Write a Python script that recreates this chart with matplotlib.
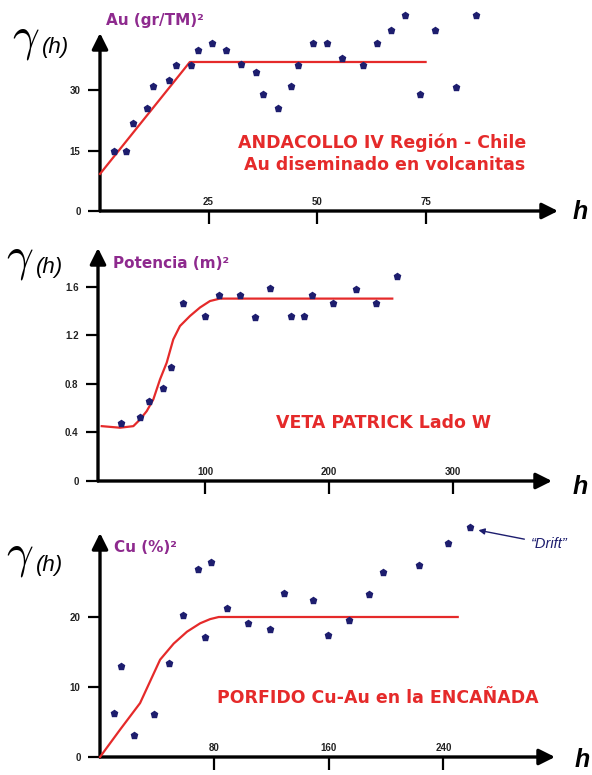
import matplotlib
matplotlib.use("Agg")
import matplotlib.pyplot as plt

# ---------------------------------------------------------------------------
# Experimental variograms (points) and fitted models (red lines)
# ---------------------------------------------------------------------------
# ANDACOLLO - Au (gr/TM)^2
au_h = [3.3, 6, 7.7, 10.9, 12.3, 15.8, 17.6, 20.9, 22.5, 25.7, 29, 32.5, 36, 37.5,
        40.9, 44, 45.5, 49, 52.3, 55.8, 60.5, 63.7, 67, 70.2, 73.7, 77.2, 81.9, 86.7]
au_g = [15, 15, 21.8, 25.5, 31, 32.5, 36.2, 36.2, 40, 41.7, 40, 36.5, 34.5, 29,
        25.5, 31, 36.2, 41.7, 41.7, 38, 36.2, 41.7, 45, 48.7, 29, 45, 30.7, 48.7]
au_model_h = [0, 20.7, 75]
au_model_g = [9.2, 37, 37]
au_xticks = [25, 50, 75]
au_yticks = [0, 15, 30]

# VETA PATRICK - Potencia (m)^2
pot_h = [32, 47.6, 55, 66, 72.5, 82, 100, 111, 128, 140, 152, 169, 180, 186,
         203, 222, 238, 255]
pot_g = [0.48, 0.53, 0.66, 0.77, 0.94, 1.47, 1.36, 1.53, 1.53, 1.35, 1.59, 1.36,
         1.36, 1.53, 1.47, 1.58, 1.47, 1.69]
pot_model_h = [16.7, 31.5, 42.2, 47.6, 53, 58.3, 63.7, 69.1, 74.4, 79.8, 87.9,
               96, 104, 112, 251]
pot_model_g = [0.452, 0.439, 0.452, 0.507, 0.576, 0.672, 0.837, 0.975, 1.167,
               1.277, 1.36, 1.43, 1.483, 1.503, 1.503]
pot_xticks = [100, 200, 300]
pot_yticks = [0, 0.4, 0.8, 1.2, 1.6]

# PORFIDO Cu-Au - Cu (%)^2
cu_h = [9.8, 14.5, 24, 38, 48.4, 58, 68.3, 73.7, 77.7, 88.9, 103.6, 118.8, 128.7,
        149, 159, 174, 188, 198, 223, 243, 258.5]
cu_g = [6.3, 13.0, 3.1, 6.2, 13.4, 20.3, 26.8, 17.2, 27.8, 21.3, 19.2, 18.3, 23.4,
        22.4, 17.4, 19.6, 23.3, 26.5, 27.5, 30.6, 32.8]
cu_model_h = [0, 14, 28, 42, 51.5, 60.8, 70, 77, 83, 250]
cu_model_g = [0, 3.9, 7.7, 13.9, 16.2, 17.9, 19.1, 19.7, 20, 20]
cu_xticks = [80, 160, 240]
cu_yticks = [0, 10, 20]

RED = "#e52a2a"
NAVY = "#1d1d6e"
PURPLE = "#8e2a8e"
TITLE_FONT = ["DejaVu Sans"]

plt.rcParams["font.family"] = ["Liberation Sans", "DejaVu Sans"]
plt.rcParams["mathtext.fontset"] = "cm"

W, H = 592, 775
fig = plt.figure(figsize=(W / 100, H / 100), dpi=100)
fig.patch.set_facecolor("white")


def px_axes(left, top, right, bottom):
    return fig.add_axes([left / W, 1 - bottom / H, (right - left) / W, (bottom - top) / H])


def fig_text(x, y, s, **kw):
    fig.text(x / W, 1 - y / H, s, **kw)


def panel(box, xlim, ylim, h, g, mh, mg, xticks, yticks, ylabels):
    ax = px_axes(*box)
    ax.set_xlim(*xlim)
    ax.set_ylim(*ylim)
    ax.patch.set_alpha(0)
    for sp in ax.spines.values():
        sp.set_visible(False)

    # axes drawn as arrows
    arrow = dict(arrowstyle="-|>", lw=2.4, color="black", mutation_scale=24,
                 shrinkA=0, shrinkB=0)
    ax.annotate("", xy=(1, 0), xytext=(0, 0), xycoords="axes fraction", arrowprops=arrow)
    ax.annotate("", xy=(0, 1), xytext=(0, 0), xycoords="axes fraction", arrowprops=arrow)

    ax.set_xticks(xticks)
    ax.set_xticklabels([])
    ax.tick_params(axis="x", direction="out", length=9, width=1.6, color="black")
    for t in xticks:
        ax.annotate(str(t), (t, ylim[0]), xytext=(0, 3), textcoords="offset points",
                    ha="center", va="bottom", fontsize=7, fontweight="bold", color="#222222")

    ax.set_yticks(yticks)
    ax.set_yticklabels(ylabels, fontsize=7, fontweight="bold", color="#222222")
    ax.tick_params(axis="y", direction="out", length=9, width=1.6, pad=5, color="black")

    ax.plot(mh, mg, color=RED, lw=1.6, clip_on=False, zorder=3)
    ax.plot(h, g, linestyle="none", marker="p", markersize=4.6, color=NAVY,
            clip_on=False, zorder=4)
    return ax


def gamma_label(x, y):
    fig_text(x, y, r"$\gamma$", ha="left", va="center", fontsize=34)
    fig_text(x + 30, y + 8, "(h)", ha="left", va="center", fontsize=16, style="italic")


title_kw = dict(ha="center", va="center", fontsize=12.5, fontweight="bold",
                color=RED, family=TITLE_FONT)
unit_kw = dict(ha="left", va="center", fontsize=11, fontweight="bold",
               color=PURPLE, family=TITLE_FONT)
h_kw = dict(ha="left", va="center", fontsize=18, style="italic", fontweight="bold")

# ---- panel 1 ----
panel((100, 33, 558, 211), (0, 105.5), (0, 44.2), au_h, au_g, au_model_h, au_model_g,
      au_xticks, au_yticks, ["0", "15", "30"])
fig_text(382, 143, "ANDACOLLO IV Región - Chile", **title_kw)
fig_text(385, 165, "Au diseminado en volcanitas", **title_kw)
fig_text(106, 20, "Au (gr/TM)²", **unit_kw)
gamma_label(12, 40)
fig_text(573, 212, "h", **h_kw)

# ---- panel 2 ----
panel((98, 248, 552, 481), (13.7, 379.8), (0, 1.92), pot_h, pot_g, pot_model_h, pot_model_g,
      pot_xticks, pot_yticks, ["0", "0.4", "0.8", "1.2", "1.6"])
fig_text(383, 423, "VETA PATRICK Lado W", **title_kw)
fig_text(113, 263, "Potencia (m)²", **unit_kw)
gamma_label(6, 260)
fig_text(573, 487, "h", **h_kw)

# ---- panel 3 ----
ax3 = panel((100, 533, 555, 757), (0, 318), (0, 32), cu_h, cu_g, cu_model_h, cu_model_g,
            cu_xticks, cu_yticks, ["0", "10", "20"])
fig_text(378, 698, "PORFIDO Cu-Au en la ENCAÑADA", **title_kw)
fig_text(114, 547, "Cu (%)²", **unit_kw)
gamma_label(6, 557)
fig_text(575, 760, "h", **h_kw)
ax3.annotate("“Drift”", xy=(cu_h[-1] + 6, cu_g[-1] - 0.4), xytext=(38, -10),
             textcoords="offset points", ha="left", va="center", fontsize=10.5,
             style="italic", color=NAVY, annotation_clip=False,
             arrowprops=dict(arrowstyle="-|>", color=NAVY, lw=1.0, mutation_scale=9,
                             shrinkA=3, shrinkB=0))

fig.savefig("out.png", dpi=100)
